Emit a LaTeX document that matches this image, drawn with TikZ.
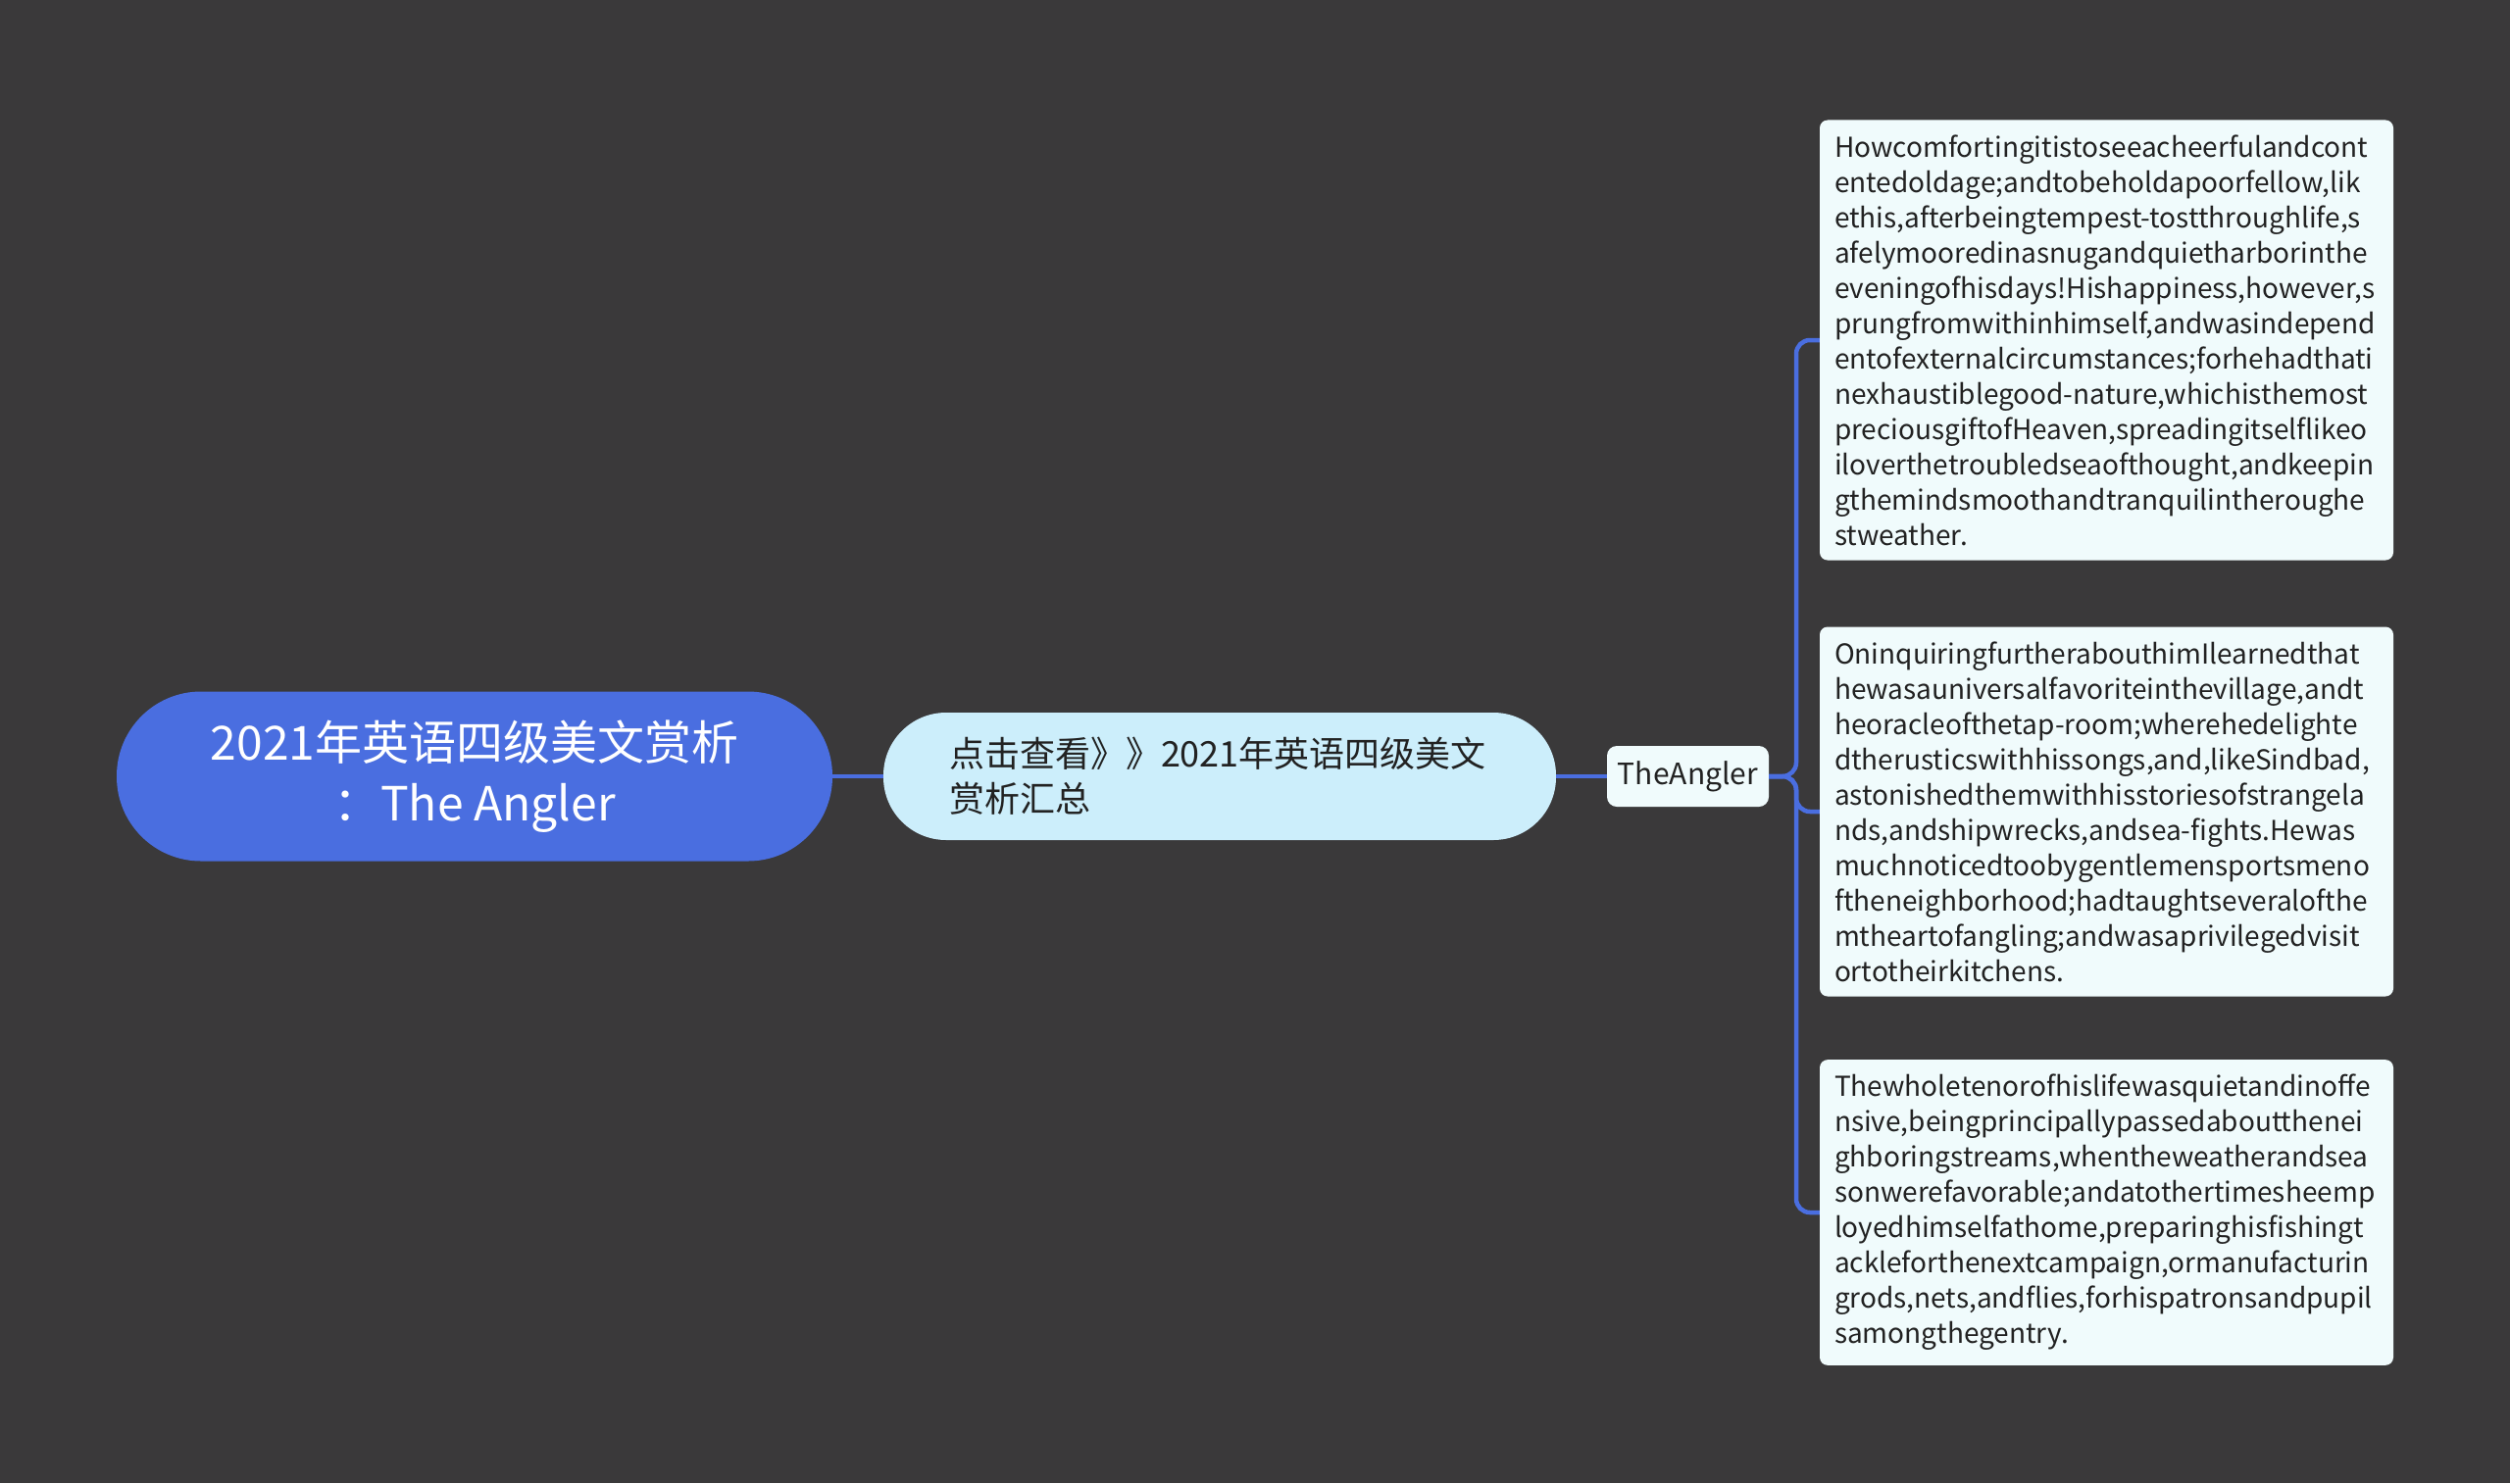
\documentclass[tikz,border=0pt]{standalone}
\usepackage{fontspec}
\setmainfont{Noto Sans CJK SC}
\usepackage{xcolor}
\definecolor{bgcol}{HTML}{3A393A}
\definecolor{linecol}{HTML}{4A6EE0}
\definecolor{rootcol}{HTML}{4A6EE0}
\definecolor{subcol}{HTML}{CCEEFB}
\definecolor{leafcol}{HTML}{F0FBFC}
\definecolor{inkcol}{HTML}{222222}

\begin{document}
\begin{tikzpicture}[x=1pt,y=-1pt,
  root/.style={fill=rootcol,text=white,rounded corners=86pt,minimum width=730pt,minimum height=173pt,align=center,font={\fontsize{48}{62}\selectfont}},
  sub/.style={fill=subcol,text=inkcol,rounded corners=64pt,minimum height=130pt,text width=552pt,inner xsep=67pt,align=left,font={\fontsize{36}{46}\selectfont}},
  topic/.style={fill=leafcol,text=inkcol,rounded corners=10pt,minimum width=165pt,minimum height=62pt,font={\fontsize{30}{36}\selectfont}},
  leaf/.style={fill=leafcol,text=inkcol,rounded corners=8pt,text width=555pt,inner xsep=15pt,inner ysep=15pt,align=left,font={\fontsize{28}{36}\selectfont}},
  link/.style={draw=linecol,line width=4.5pt}]
  \fill[bgcol] (0,0) rectangle (2560,1513);
  \useasboundingbox (0,0) rectangle (2560,1513);
  \node[root] (main) at (484,792) {2021年英语四级美文赏析\\：The Angler};
  \node[sub] (summary) at (1244,792) {点击查看》》2021年英语四级美文\\赏析汇总};
  \node[topic] (angler) at (1721.5,792) {TheAngler};
  \node[leaf] (leaf1) at (2148.5,347) {Howcomfortingitistoseeacheerfulandcont\\entedoldage;andtobeholdapoorfellow,lik\\ethis,afterbeingtempest-tostthroughlife,s\\afelymooredinasnugandquietharborinthe\\eveningofhisdays!Hishappiness,however,s\\prungfromwithinhimself,andwasindepend\\entofexternalcircumstances;forhehadthati\\nexhaustiblegood-nature,whichisthemost\\preciousgiftofHeaven,spreadingitselflikeo\\iloverthetroubledseaofthought,andkeepin\\gthemindsmoothandtranquilintheroughe\\stweather.};
  \node[leaf] (leaf2) at (2148.5,828) {OninquiringfurtherabouthimIlearnedthat\\hewasauniversalfavoriteinthevillage,andt\\heoracleofthetap-room;wherehedelighte\\dtherusticswithhissongs,and,likeSindbad,\\astonishedthemwithhisstoriesofstrangela\\nds,andshipwrecks,andsea-fights.Hewas\\muchnoticedtoobygentlemensportsmeno\\ftheneighborhood;hadtaughtseveralofthe\\mtheartofangling;andwasaprivilegedvisit\\ortotheirkitchens.};
  \node[leaf] (leaf3) at (2148.5,1237) {Thewholetenorofhislifewasquietandinoffe\\nsive,beingprincipallypassedaboutthenei\\ghboringstreams,whentheweatherandsea\\sonwerefavorable;andatothertimesheemp\\loyedhimselfathome,preparinghisfishingt\\ackleforthenextcampaign,ormanufacturin\\grods,nets,andflies,forhispatronsandpupil\\samongthegentry.};
  \coordinate (fork) at (1832,792);
  \draw[link] (main.east) -- (summary.west);
  \draw[link] (summary.east) -- (angler.west);
  \foreach \n in {leaf1,leaf2,leaf3} {
    \draw[link,rounded corners=14pt] (angler.east) -- (fork) |- (\n.west);
  }
\end{tikzpicture}
\end{document}
